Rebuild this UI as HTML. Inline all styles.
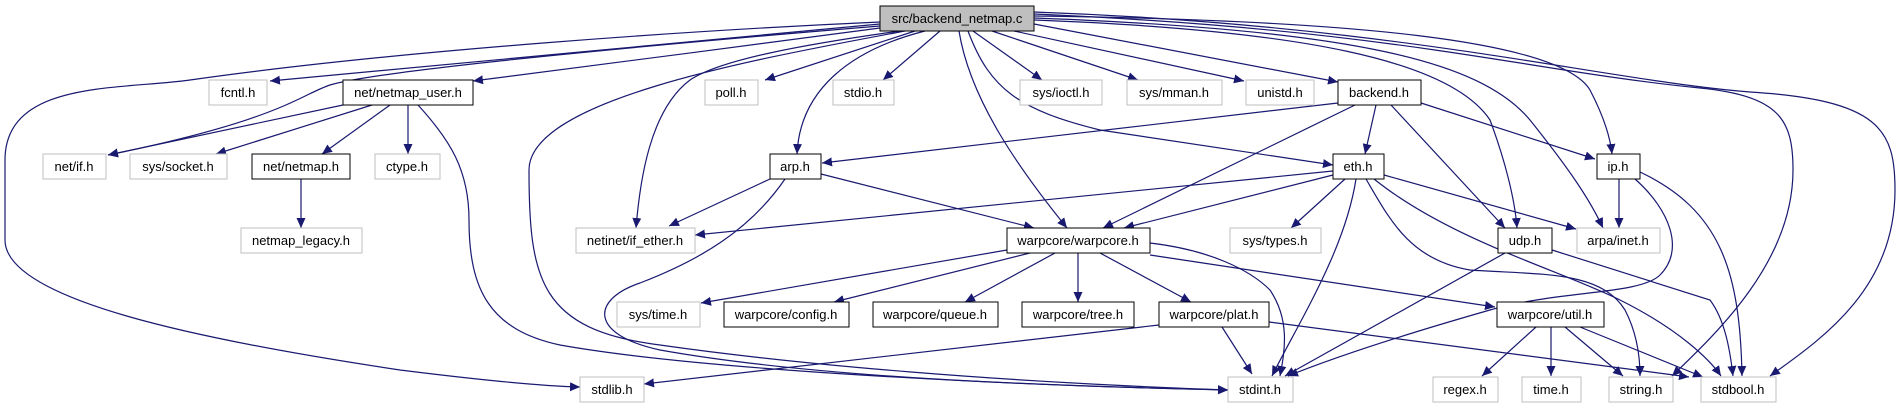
<!DOCTYPE html>
<html><head><meta charset="utf-8"><style>
html,body{margin:0;padding:0;background:#fff;}
svg{display:block;}
text{font-family:"Liberation Sans",Arial,sans-serif;font-size:13px;fill:#000;text-anchor:middle;}
.e{fill:none;stroke:#191970;stroke-width:1.2;marker-end:url(#a);}
.g{fill:#fff;stroke:#bfbfbf;stroke-width:1;}
.b{fill:#fff;stroke:#000;stroke-width:1;}
</style></head><body>
<svg width="1900" height="411" viewBox="0 0 1900 411" xmlns="http://www.w3.org/2000/svg">
<defs><marker id="a" markerWidth="11" markerHeight="9" refX="10" refY="4.5" orient="auto" markerUnits="userSpaceOnUse"><path d="M0,0 L10,4.5 L0,9 z" fill="#191970"/></marker></defs>
<!-- edges from main -->
<path class="e" d="M880 22 C700 30,400 50,190 80 C120 90,5 80,5 160 L5 240 C5 300,200 340,400 370 C480 380,540 386,580 387"/>
<path class="e" d="M880 24 C700 40,450 65,270 81"/>
<path class="e" d="M880 26 C650 45,380 70,330 85 C300 95,280 120,108 155"/>
<path class="e" d="M880 28 C750 45,600 65,473 81"/>
<path class="e" d="M900 31 C800 45,720 60,690 80 C650 110,640 180,636 228"/>
<path class="e" d="M905 31 C750 60,529 100,529 170 C529 280,540 330,660 345 C800 365,1000 382,1228 390"/>
<path class="e" d="M915 31 L765 80"/>
<path class="e" d="M940 31 L883 80"/>
<path class="e" d="M925 31 C850 50,800 90,797 154"/>
<path class="e" d="M959 31 C970 100,1020 170,1067 228"/>
<path class="e" d="M973 31 L1042 80"/>
<path class="e" d="M992 31 L1138 80"/>
<path class="e" d="M1014 31 L1244 81"/>
<path class="e" d="M1034 24 L1338 82"/>
<path class="e" d="M968 31 C990 90,1020 110,1100 130 L1333 165"/>
<path class="e" d="M1034 20 C1300 30,1450 60,1490 120 C1505 160,1515 200,1517 228"/>
<path class="e" d="M1034 18 C1350 30,1480 60,1530 120 C1570 170,1590 200,1603 228"/>
<path class="e" d="M1034 16 C1350 20,1560 40,1590 90 C1603 115,1610 135,1612 154"/>
<path class="e" d="M1034 14 C1400 30,1520 70,1700 88 C1780 96,1793 120,1793 170 C1793 260,1720 330,1672 376"/>
<path class="e" d="M1034 12 C1400 25,1600 80,1750 92 C1880 100,1895 130,1895 190 C1895 290,1820 340,1770 376"/>
<!-- netmap_user -->
<path class="e" d="M343 105 L108 155"/>
<path class="e" d="M372 105 L216 154"/>
<path class="e" d="M390 105 L322 154"/>
<path class="e" d="M408 105 L408 154"/>
<path class="e" d="M418 105 C450 140,469 170,469 220 C469 290,490 330,560 345 C700 370,1000 385,1228 390"/>
<path class="e" d="M301 179 L301 228"/>
<!-- arp -->
<path class="e" d="M770 179 L669 226"/>
<path class="e" d="M821 174 L1034 228"/>
<path class="e" d="M785 179 C750 230,700 260,640 283 C590 300,590 335,660 350 C800 375,1000 385,1228 390"/>
<!-- backend -->
<path class="e" d="M1338 103 L822 163"/>
<path class="e" d="M1355 105 L1103 228"/>
<path class="e" d="M1376 105 L1365 154"/>
<path class="e" d="M1391 105 L1505 228"/>
<path class="e" d="M1421 103 L1595 159"/>
<!-- eth -->
<path class="e" d="M1333 171 L695 235"/>
<path class="e" d="M1333 175 L1124 228"/>
<path class="e" d="M1345 179 L1291 228"/>
<path class="e" d="M1356 179 C1345 250,1300 320,1272 376"/>
<path class="e" d="M1366 179 C1390 220,1410 260,1470 270 C1540 275,1600 270,1625 310 C1638 335,1640 360,1640 376"/>
<path class="e" d="M1374 179 C1450 240,1560 270,1620 300 C1680 330,1710 360,1721 376"/>
<path class="e" d="M1384 175 L1576 229"/>
<!-- ip -->
<path class="e" d="M1619 179 L1619 228"/>
<path class="e" d="M1640 172 C1720 210,1740 270,1742 376"/>
<path class="e" d="M1635 179 C1670 210,1685 250,1660 275 C1640 295,1560 290,1490 310 C1420 330,1340 355,1288 376"/>
<!-- udp -->
<path class="e" d="M1505 253 L1285 376"/>
<path class="e" d="M1552 250 L1710 300 C1725 320,1730 350,1733 376"/>
<!-- warpcore -->
<path class="e" d="M1007 250 L701 303"/>
<path class="e" d="M1030 253 L834 302"/>
<path class="e" d="M1055 253 L965 302"/>
<path class="e" d="M1078 253 L1078 302"/>
<path class="e" d="M1100 253 L1191 302"/>
<path class="e" d="M1150 243 C1210 250,1250 270,1270 290 C1290 320,1285 350,1280 376"/>
<path class="e" d="M1150 255 L1495 307"/>
<!-- plat -->
<path class="e" d="M1159 325 L644 384"/>
<path class="e" d="M1222 327 L1252 374"/>
<path class="e" d="M1269 322 L1689 377"/>
<!-- util -->
<path class="e" d="M1536 327 L1482 376"/>
<path class="e" d="M1551 327 L1551 376"/>
<path class="e" d="M1565 327 L1623 376"/>
<path class="e" d="M1580 327 L1703 377"/>
<!-- nodes -->
<rect x="880" y="6" width="154" height="25" fill="#bfbfbf" stroke="#000"/><text x="957" y="23">src/backend_netmap.c</text>
<rect class="g" x="209" y="80" width="58" height="25"/><text x="238" y="97">fcntl.h</text>
<rect class="b" x="343" y="80" width="130" height="25"/><text x="408" y="97">net/netmap_user.h</text>
<rect class="g" x="705" y="80" width="53" height="25"/><text x="731" y="97">poll.h</text>
<rect class="g" x="833" y="80" width="61" height="25"/><text x="863" y="97">stdio.h</text>
<rect class="g" x="1020" y="80" width="82" height="25"/><text x="1061" y="97">sys/ioctl.h</text>
<rect class="g" x="1127" y="80" width="95" height="25"/><text x="1174" y="97">sys/mman.h</text>
<rect class="g" x="1246" y="80" width="68" height="25"/><text x="1280" y="97">unistd.h</text>
<rect class="b" x="1338" y="80" width="83" height="25"/><text x="1379" y="97">backend.h</text>
<rect class="g" x="43" y="154" width="63" height="25"/><text x="74" y="171">net/if.h</text>
<rect class="g" x="130" y="154" width="97" height="25"/><text x="178" y="171">sys/socket.h</text>
<rect class="b" x="252" y="154" width="98" height="25"/><text x="301" y="171">net/netmap.h</text>
<rect class="g" x="375" y="154" width="65" height="25"/><text x="407" y="171">ctype.h</text>
<rect class="b" x="770" y="154" width="51" height="25"/><text x="795" y="171">arp.h</text>
<rect class="b" x="1333" y="154" width="51" height="25"/><text x="1358" y="171">eth.h</text>
<rect class="b" x="1597" y="154" width="43" height="25"/><text x="1618" y="171">ip.h</text>
<rect class="g" x="241" y="228" width="121" height="25"/><text x="301" y="245">netmap_legacy.h</text>
<rect class="g" x="576" y="228" width="119" height="25"/><text x="635" y="245">netinet/if_ether.h</text>
<rect class="b" x="1007" y="228" width="143" height="25"/><text x="1078" y="245">warpcore/warpcore.h</text>
<rect class="g" x="1230" y="228" width="91" height="25"/><text x="1275" y="245">sys/types.h</text>
<rect class="b" x="1498" y="228" width="54" height="25"/><text x="1525" y="245">udp.h</text>
<rect class="g" x="1577" y="228" width="83" height="25"/><text x="1618" y="245">arpa/inet.h</text>
<rect class="g" x="617" y="302" width="83" height="25"/><text x="658" y="319">sys/time.h</text>
<rect class="b" x="724" y="302" width="125" height="25"/><text x="786" y="319">warpcore/config.h</text>
<rect class="b" x="873" y="302" width="125" height="25"/><text x="935" y="319">warpcore/queue.h</text>
<rect class="b" x="1022" y="302" width="112" height="25"/><text x="1078" y="319">warpcore/tree.h</text>
<rect class="b" x="1159" y="302" width="110" height="25"/><text x="1214" y="319">warpcore/plat.h</text>
<rect class="b" x="1497" y="302" width="107" height="25"/><text x="1550" y="319">warpcore/util.h</text>
<rect class="g" x="580" y="377" width="64" height="25"/><text x="612" y="394">stdlib.h</text>
<rect class="g" x="1228" y="377" width="65" height="25"/><text x="1260" y="394">stdint.h</text>
<rect class="g" x="1433" y="377" width="65" height="25"/><text x="1465" y="394">regex.h</text>
<rect class="g" x="1522" y="377" width="59" height="25"/><text x="1551" y="394">time.h</text>
<rect class="g" x="1609" y="377" width="64" height="25"/><text x="1641" y="394">string.h</text>
<rect class="g" x="1701" y="377" width="75" height="25"/><text x="1738" y="394">stdbool.h</text>
</svg>
</body></html>
